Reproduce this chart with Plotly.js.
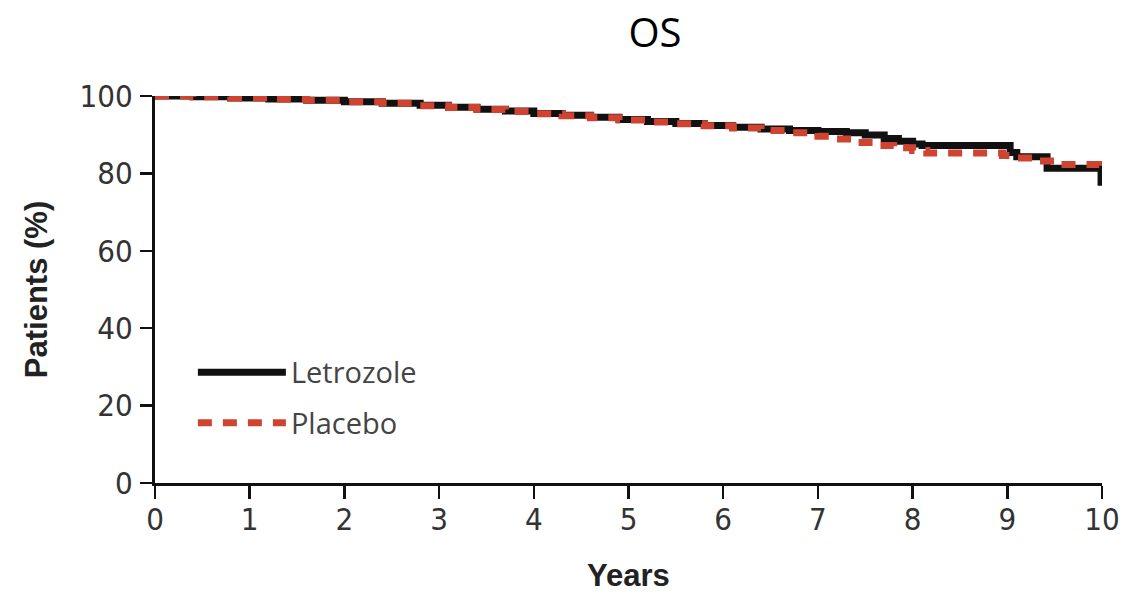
<!DOCTYPE html>
<html>
<head>
<meta charset="utf-8">
<script src="https://cdn.plot.ly/plotly-3.0.1.min.js"></script>
<style>
  html, body { margin: 0; padding: 0; background: #ffffff; }
  #chart { width: 1130px; height: 593px; }
</style>
</head>
<body>
<div id="chart"></div>
<script>
// Kaplan-Meier overall survival estimates (percent of patients alive) by year
const letrozoleYears = [0, 0.4, 0.8, 1.2, 1.6, 2.0, 2.4, 2.8, 3.1, 3.4, 3.7, 4.0, 4.3, 4.6, 4.9, 5.2, 5.5, 5.8, 6.1, 6.4, 6.7, 7.0, 7.3, 7.5, 7.7, 7.85, 8.0, 8.1, 9.03, 9.1, 9.42, 9.99];
const letrozolePct   = [100, 99.8, 99.5, 99.2, 98.9, 98.5, 98.1, 97.6, 97.1, 96.6, 96.1, 95.5, 95.0, 94.5, 93.9, 93.4, 92.9, 92.4, 91.9, 91.5, 91.1, 90.8, 90.5, 89.9, 89.0, 88.3, 87.6, 87.2, 85.4, 84.3, 81.3, 76.8];

const placeboYears = [0, 0.4, 0.8, 1.2, 1.6, 2.0, 2.4, 2.8, 3.1, 3.4, 3.7, 4.0, 4.3, 4.6, 4.9, 5.2, 5.5, 5.8, 6.1, 6.4, 6.7, 7.0, 7.2, 7.4, 7.6, 7.8, 8.0, 8.15, 8.95, 9.1, 9.3, 9.55, 9.97];
const placeboPct   = [100, 99.8, 99.5, 99.2, 98.9, 98.5, 98.1, 97.5, 97.0, 96.5, 96.0, 95.4, 94.9, 94.4, 93.8, 93.3, 92.8, 92.3, 91.7, 91.1, 90.5, 89.6, 88.9, 88.0, 87.2, 86.6, 85.9, 85.3, 84.6, 84.0, 83.2, 82.3, 82.0];

const seriesNames = ['Letrozole', 'Placebo'];
const xTicks = [0, 1, 2, 3, 4, 5, 6, 7, 8, 9, 10];
const yTicks = [0, 20, 40, 60, 80, 100];

const tickFont = { family: 'Liberation Sans Narrow, DejaVu Sans Condensed, Liberation Sans, sans-serif', size: 31, color: '#333333', stretch: 'condensed' };
const axisTitleFont = { family: 'Liberation Sans, Arial, sans-serif', size: 31, color: '#222222', weight: 'bold' };

const traces = [
  {
    x: letrozoleYears, y: letrozolePct, name: seriesNames[0],
    type: 'scatter', mode: 'lines', line: { shape: 'hv', color: '#111111', width: 7 },
    legendgroup: 'a', cliponaxis: false
  },
  {
    x: placeboYears, y: placeboPct, name: seriesNames[1],
    type: 'scatter', mode: 'lines', line: { shape: 'hv', color: '#cf4430', width: 7, dash: '14px,11px' },
    legendgroup: 'b', cliponaxis: false
  }
];

const layout = {
  width: 1130, height: 593,
  paper_bgcolor: '#ffffff', plot_bgcolor: '#ffffff',
  margin: { l: 155, r: 28, t: 96, b: 110 },
  title: {
    text: 'OS', x: 0.528, xanchor: 'center', xref: 'paper', y: 0.945, yanchor: 'middle',
    font: { family: 'Open Sans, Noto Sans, sans-serif', size: 40, color: '#000000' }
  },
  showlegend: true,
  legend: {
    x: 0.04, xanchor: 'left', y: 0.352, yanchor: 'top',
    bgcolor: 'rgba(0,0,0,0)', borderwidth: 0,
    traceorder: 'grouped', tracegroupgap: 10, itemwidth: 88,
    font: { family: 'Open Sans, Noto Sans, sans-serif', size: 29, color: '#444444' }
  },
  xaxis: {
    range: [0, 10], tickvals: xTicks, ticktext: xTicks.map(String),
    showgrid: false, zeroline: false,
    showline: true, linecolor: '#111111', linewidth: 3,
    ticks: 'outside', ticklen: 13, tickwidth: 2.5, tickcolor: '#111111',
    tickfont: tickFont, ticklabelstandoff: -6,
    title: { text: 'Years', font: axisTitleFont, standoff: 34 }
  },
  yaxis: {
    range: [0, 100], tickvals: yTicks, ticktext: yTicks.map(String),
    showgrid: false, zeroline: false,
    showline: true, linecolor: '#111111', linewidth: 3,
    ticks: 'outside', ticklen: 12, tickwidth: 2.5, tickcolor: '#111111',
    tickfont: tickFont, ticklabelstandoff: 1,
    title: { text: 'Patients (%)', font: axisTitleFont, standoff: 23 }
  }
};

Plotly.newPlot('chart', traces, layout, { staticPlot: true, displayModeBar: false });
</script>
</body>
</html>
